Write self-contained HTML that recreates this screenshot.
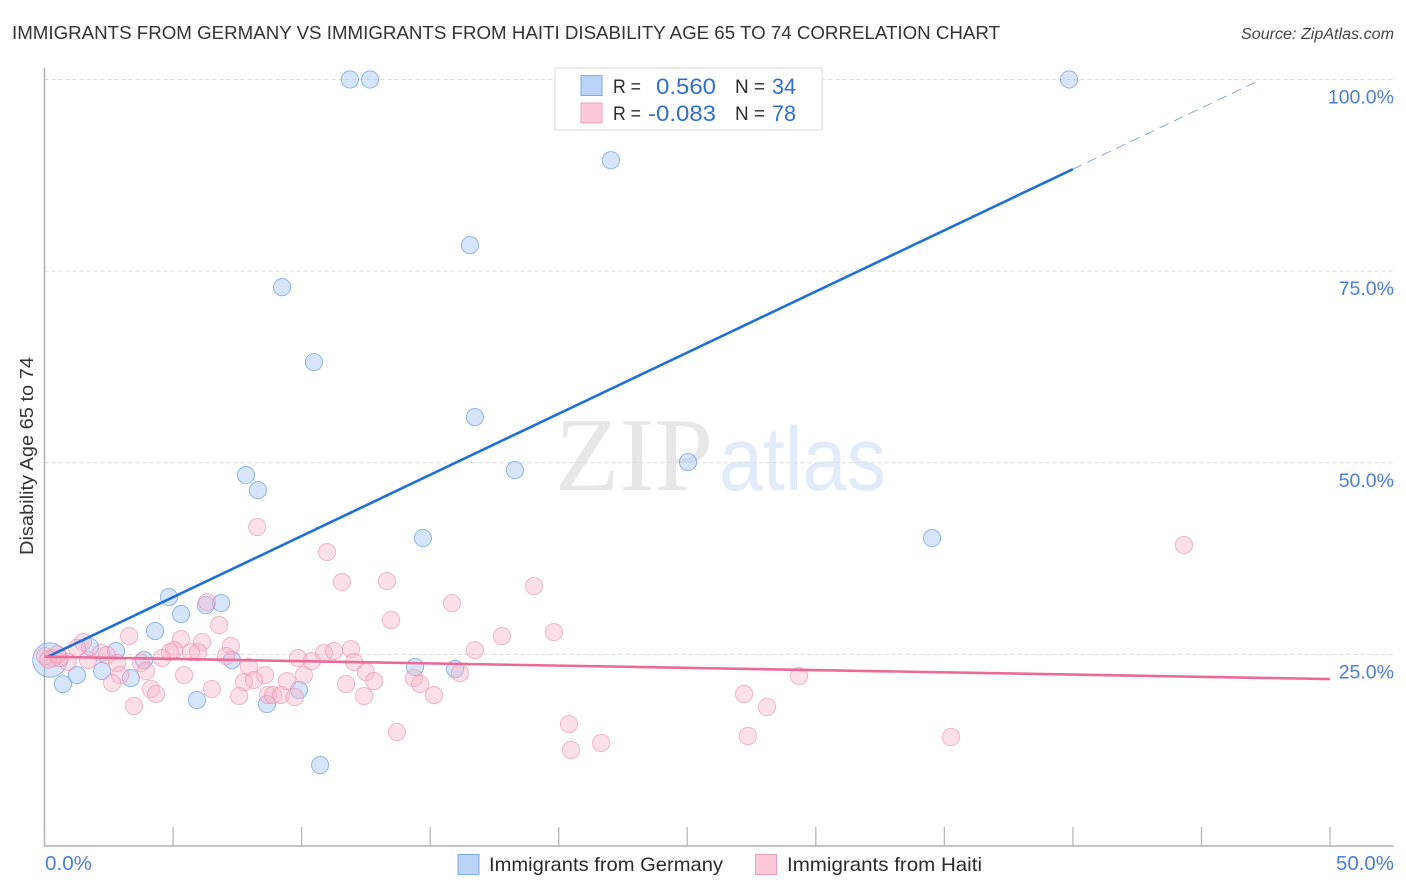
<!DOCTYPE html>
<html lang="en">
<head>
<meta charset="utf-8">
<title>Immigrants from Germany vs Immigrants from Haiti Disability Age 65 to 74 Correlation Chart</title>
<style>
html,body{margin:0;padding:0;background:#fff;width:1406px;height:892px;overflow:hidden}
svg{display:block}
text{font-family:"Liberation Sans",sans-serif}
</style>
</head>
<body>
<svg id="chart" xmlns="http://www.w3.org/2000/svg" width="1406" height="892" viewBox="0 0 1406 892">
  <rect x="0" y="0" width="1406" height="892" fill="#fff"/>
  <text x="12" y="39" font-size="18.5" fill="#333" textLength="988" lengthAdjust="spacingAndGlyphs">IMMIGRANTS FROM GERMANY VS IMMIGRANTS FROM HAITI DISABILITY AGE 65 TO 74 CORRELATION CHART</text>
  <text x="1394" y="39" font-size="15.5" font-style="italic" fill="#444" text-anchor="end" textLength="153" lengthAdjust="spacingAndGlyphs">Source: ZipAtlas.com</text>

  <g>
    <text x="555" y="490" font-size="105" style="font-family:'Liberation Serif',serif" fill="#e7e7e7" textLength="158" lengthAdjust="spacingAndGlyphs">ZIP</text>
    <text x="719" y="490" font-size="90" fill="#e1ebfa" textLength="167" lengthAdjust="spacingAndGlyphs">atlas</text>
  </g>

  <g id="grid"></g>
  <g id="axes"></g>
  <g id="blue-points"></g>
  <g id="pink-points"></g>
  <g id="trends"></g>
  <g id="y-labels"></g>
  <g id="x-labels"></g>

  <text transform="translate(33,456) rotate(-90)" font-size="18.5" fill="#333" text-anchor="middle" textLength="198" lengthAdjust="spacingAndGlyphs">Disability Age 65 to 74</text>

  <g>
    <rect x="555" y="68" width="267" height="62" fill="#fff" stroke="#dedede" stroke-width="1.2"/>
    <rect x="581" y="75.5" width="21" height="20" fill="#b9d4f7" stroke="#7faae6" stroke-width="1"/>
    <text x="613" y="93" font-size="19" fill="#2b2b2b" textLength="28" lengthAdjust="spacingAndGlyphs">R =</text>
    <text x="716" y="94" font-size="22" fill="#2f6fd0" text-anchor="end" textLength="60" lengthAdjust="spacingAndGlyphs">0.560</text>
    <text x="735" y="93" font-size="19" fill="#2b2b2b" textLength="30" lengthAdjust="spacingAndGlyphs">N =</text>
    <text x="772" y="94" font-size="22" fill="#2f6fd0" textLength="24" lengthAdjust="spacingAndGlyphs">34</text>
    <rect x="581" y="103" width="21" height="20" fill="#fcc8da" stroke="#f0a0bc" stroke-width="1"/>
    <text x="613" y="120" font-size="19" fill="#2b2b2b" textLength="28" lengthAdjust="spacingAndGlyphs">R =</text>
    <text x="716" y="121" font-size="22" fill="#2f6fd0" text-anchor="end" textLength="68" lengthAdjust="spacingAndGlyphs">-0.083</text>
    <text x="735" y="120" font-size="19" fill="#2b2b2b" textLength="30" lengthAdjust="spacingAndGlyphs">N =</text>
    <text x="772" y="121" font-size="22" fill="#2f6fd0" textLength="24" lengthAdjust="spacingAndGlyphs">78</text>
  </g>

  <g>
    <rect x="458" y="854.5" width="21" height="20" fill="#b9d4f7" stroke="#7faae6" stroke-width="1"/>
    <text x="489" y="871" font-size="19.5" fill="#2b2b2b" textLength="234" lengthAdjust="spacingAndGlyphs">Immigrants from Germany</text>
    <rect x="755.5" y="854.5" width="21" height="20" fill="#fcc8da" stroke="#f0a0bc" stroke-width="1"/>
    <text x="787" y="871" font-size="19.5" fill="#2b2b2b" textLength="195" lengthAdjust="spacingAndGlyphs">Immigrants from Haiti</text>
  </g>
</svg>
<script>
const xTickValues = [0,5,10,15,20,25,30,35,40,45,50];
const xLabelValues = [0,50];
const xLabelTexts = ['0.0%','50.0%'];
const yTickValues = [100,75,50,25];
const yLabelTexts = ['100.0%','75.0%','50.0%','25.0%'];

const blueX = [11.88,12.66,39.85,22.03,16.55,9.24,10.48,16.74,7.84,8.30,18.30,25.03,14.72,34.52,4.84,6.28,6.87,5.31,4.30,1.77,2.78,3.87,7.29,2.24,3.36,1.26,0.72,5.93,8.65,9.90,10.72,14.41,15.97,0.21];
const blueY = [100,100,100,89.47,78.39,72.91,63.13,55.95,48.39,46.43,49.04,50.09,40.17,40.17,32.48,31.43,31.69,30.26,28.04,25.96,25.43,24.26,24.26,22.83,21.91,22.30,21.13,19.04,18.52,20.35,10.56,23.35,23.09,24.26];
const blueWeight = [1,1,1,1,1,1,1,1,1,1,1,1,1,1,1,1,1,1,1,1,1,1,1,1,1,1,1,1,1,1,1,1,1,4];

const pinkX = [11.57,6.32,6.79,3.29,5.31,6.13,7.25,1.50,1.26,2.20,2.43,5.04,4.88,4.57,5.70,5.97,7.06,1.69,0.33,0.91,0.60,2.82,3.75,2.94,3.95,2.63,5.43,4.14,4.34,6.51,3.48,7.95,8.58,7.76,8.15,7.57,9.43,10.09,9.86,10.40,10.87,11.26,8.69,8.89,9.20,9.74,13.32,19.04,15.85,13.48,17.79,19.82,16.74,11.92,12.04,12.50,12.82,11.73,12.43,14.37,14.61,15.15,16.16,13.71,20.40,20.48,21.65,8.27,10.99,44.32,27.21,28.10,29.35,27.36,35.26,0.02,0.15,0.50];
const pinkY = [34.43,31.82,28.82,27.39,27.00,26.61,26.09,26.61,25.83,25.17,24.91,25.56,25.30,24.52,25.30,25.30,24.78,24.26,24.52,24.00,24.52,23.87,23.87,22.30,22.83,21.26,22.30,20.48,19.83,20.48,18.26,23.35,22.30,21.39,21.65,19.56,21.52,22.30,24.52,24.13,25.17,25.43,19.69,19.69,19.69,19.43,34.56,33.91,31.69,29.48,27.39,27.91,25.56,25.69,24.00,22.69,21.52,21.13,19.56,21.91,21.13,19.69,22.56,14.87,15.91,12.52,13.43,41.61,38.35,39.26,19.83,18.13,22.17,14.35,14.22,24.78,24.30,25.00];

const blueTrendX = [0.1,40.0];
const blueTrendY = [24.65,88.3];
const blueDashX = [40.0,47.2];
const blueDashY = [88.3,99.8];
const pinkTrendX = [0,50];
const pinkTrendY = [24.7,21.78];

const SVGNS = 'http://www.w3.org/2000/svg';
function xScale(v){ return 44.5 + v * (1330 - 44.5) / 50; }
function yScale(v){ return 846 - v * (846 - 79.5) / 100; }
function make(tag, attrs, parent){
  const el = document.createElementNS(SVGNS, tag);
  for (const k in attrs) el.setAttribute(k, attrs[k]);
  parent.appendChild(el);
  return el;
}
const gridG = document.getElementById('grid');
const axesG = document.getElementById('axes');
const blueG = document.getElementById('blue-points');
const pinkG = document.getElementById('pink-points');
const trendG = document.getElementById('trends');
const yLabelG = document.getElementById('y-labels');
const xLabelG = document.getElementById('x-labels');

yTickValues.forEach(function(v, i){
  const g = make('line', {x1:44.5, x2:1394, y1:yScale(v), y2:yScale(v), stroke:'#dcdcdc', 'stroke-width':1, 'stroke-dasharray':'4 3'}, gridG);
  
  
  const t = make('text', {x:1394, y:yScale(v)+24, 'font-size':19.5, fill:'#4a7fd8', 'text-anchor':'end'}, yLabelG);
  
  
  t.textContent = yLabelTexts[i];
});

const yAxis = make('line', {x1:44.5, x2:44.5, y1:68, y2:846, stroke:'#b0b0b0', 'stroke-width':1.5}, axesG);


const xAxis = make('line', {x1:44, x2:1394, y1:846, y2:846, stroke:'#b0b0b0', 'stroke-width':1.5}, axesG);


xTickValues.forEach(function(v){
  const tk = make('line', {x1:xScale(v), x2:xScale(v), y1:827, y2:846, stroke:'#b8b8b8', 'stroke-width':1.3}, axesG);
  
  
});
xLabelValues.forEach(function(v, i){
  const last = i === xLabelValues.length - 1;
  const t = make('text', {x: last ? 1394 : xScale(v) + 0.5, y:870, 'font-size':20, fill:'#4a7fd8', 'text-anchor': last ? 'end' : 'start', textLength: last ? 58 : 47, lengthAdjust:'spacingAndGlyphs'}, xLabelG);
  
  
  t.textContent = xLabelTexts[i];
});

blueX.forEach(function(v, i){
  const c = make('circle', {cx:xScale(v), cy:yScale(blueY[i]), r:8.6*Math.sqrt(blueWeight[i]), fill:'#a9c9f3', 'fill-opacity':0.48, stroke:'#5f95e0', 'stroke-opacity':0.65, 'stroke-width':1}, blueG);
  
  
});
pinkX.forEach(function(v, i){
  const c = make('circle', {cx:xScale(v), cy:yScale(pinkY[i]), r:8.6, fill:'#f8b5cb', 'fill-opacity':0.42, stroke:'#ea8fae', 'stroke-opacity':0.62, 'stroke-width':1}, pinkG);
  
  
});

const blueDash = make('line', {x1:xScale(blueDashX[0]), y1:yScale(blueDashY[0]), x2:xScale(blueDashX[1]), y2:yScale(blueDashY[1]), stroke:'#7f9fd8', 'stroke-width':0.9, 'stroke-dasharray':'10 6'}, trendG);


const blueTrend = make('line', {x1:xScale(blueTrendX[0]), y1:yScale(blueTrendY[0]), x2:xScale(blueTrendX[1]), y2:yScale(blueTrendY[1]), stroke:'#1f6fd8', 'stroke-width':2.6}, trendG);


const pinkTrend = make('line', {x1:xScale(pinkTrendX[0]), y1:yScale(pinkTrendY[0]), x2:xScale(pinkTrendX[1]), y2:yScale(pinkTrendY[1]), stroke:'#ec6a98', 'stroke-width':2.6}, trendG);


</script>
</body>
</html>
